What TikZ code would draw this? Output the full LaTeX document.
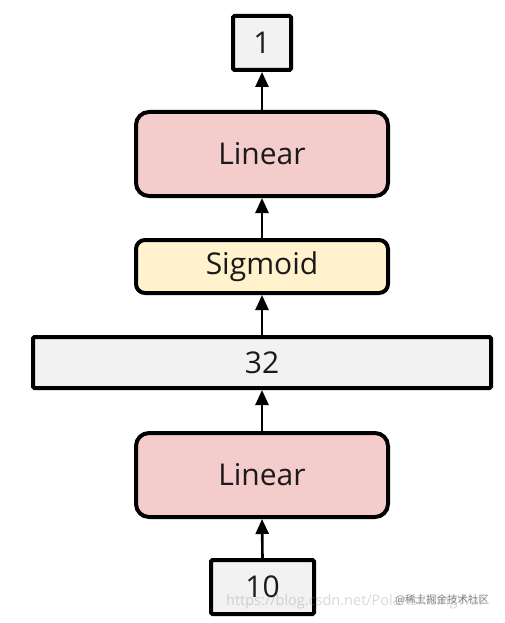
\documentclass[tikz,border=0pt]{standalone}
\usepackage{fontspec}
\setmainfont{Open Sans}
\newfontfamily\cjk{Noto Sans CJK SC}
\usetikzlibrary{arrows.meta}
\definecolor{pinkfill}{HTML}{F4CCCC}
\definecolor{yellowfill}{HTML}{FFF2CC}
\definecolor{grayfill}{HTML}{F2F2F2}
\definecolor{txt}{HTML}{1A1A1A}
\tikzset{
  layer/.style={draw=black, line width=4pt, text=txt, font=\fontsize{30}{34}\selectfont, inner sep=0pt},
  linbox/.style={layer, fill=pinkfill, rounded corners=13pt, minimum width=252pt, minimum height=84pt},
  sigbox/.style={layer, fill=yellowfill, rounded corners=9pt, minimum width=252pt, minimum height=53pt},
  sizebox/.style={layer, fill=grayfill, rounded corners=1.5pt},
  conn/.style={line width=2.6pt, -{Triangle[width=13pt,length=15pt]}},
}
\begin{document}
\begin{tikzpicture}[x=1pt,y=-1pt]
\useasboundingbox[fill=white] (0,0) rectangle (504,623);
\node[sizebox, minimum width=58pt, minimum height=54pt] (one) at (262,43) {1};
\node[linbox] (lintop) at (262,154) {Linear};
\node[sigbox] (sig) at (262,266.5) {Sigmoid};
\node[sizebox, minimum width=458pt, minimum height=51pt] (hid) at (262,362.5) {32};
\node[linbox] (linbot) at (262,475) {Linear};
\node[sizebox, minimum width=103pt, minimum height=54pt] (inp) at (262.5,587) {10};
\draw[conn] (inp.north) -- (linbot.south);
\draw[conn] (linbot.north) -- (hid.south);
\draw[conn] (hid.north) -- (sig.south);
\draw[conn] (sig.north) -- (lintop.south);
\draw[conn] (lintop.north) -- (one.south);
\node[anchor=west, text=gray, opacity=0.3, font=\fontsize{14.5}{17}\selectfont, inner sep=0pt] (wm1) at (226,602) {https://blog.csdn.net/PolarisRisingWar};
\node[anchor=west, text=black!60, opacity=0.8, font=\cjk\fontsize{10.5}{12}\selectfont, inner sep=0pt] (wm2) at (395,600) {@稀土掘金技术社区};
\end{tikzpicture}
\end{document}
